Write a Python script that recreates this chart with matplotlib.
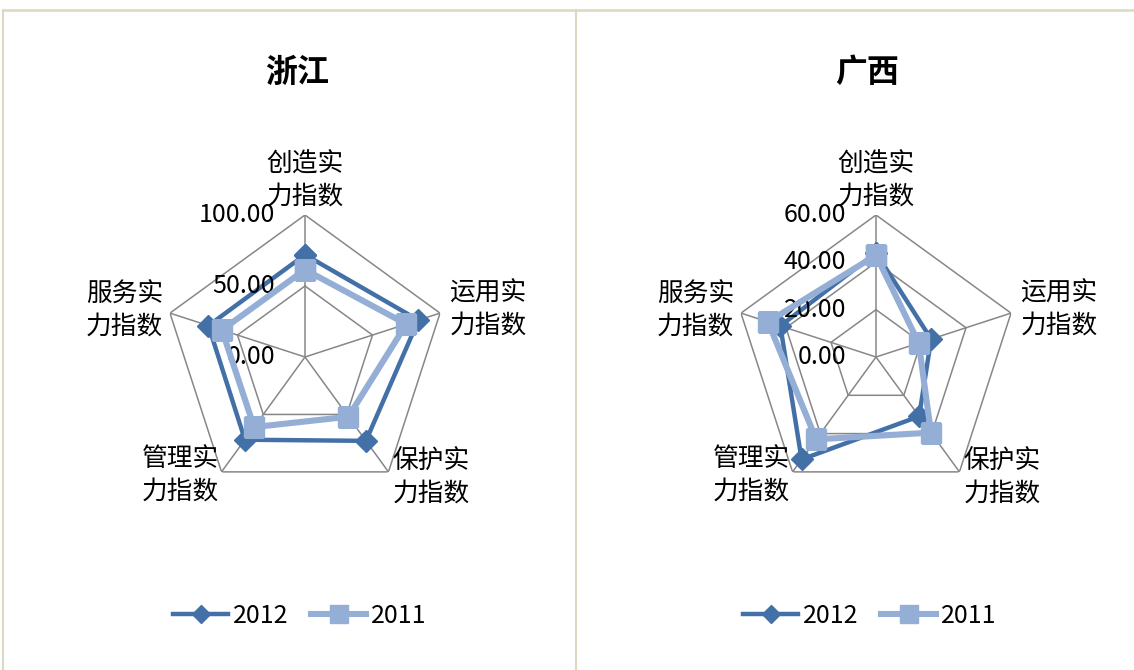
import numpy as np
import matplotlib.pyplot as plt
from matplotlib.lines import Line2D
from matplotlib.transforms import ScaledTranslation

plt.rcParams['font.family'] = ['Noto Sans CJK SC', 'DejaVu Sans']
plt.rcParams['axes.unicode_minus'] = False

# 数据
categories = ['创造实\n力指数', '运用实\n力指数', '保护实\n力指数', '管理实\n力指数', '服务实\n力指数']
series_names = ['2012', '2011']

zj_2012 = [72.0, 84.0, 73.0, 72.0, 71.5]
zj_2011 = [61.5, 75.0, 52.0, 61.0, 61.5]
gx_2012 = [44.0, 24.5, 31.0, 53.5, 42.5]
gx_2011 = [43.0, 19.0, 39.5, 43.0, 48.0]

zj_ticks = [0, 50, 100]
gx_ticks = [0, 20, 40, 60]

c2012 = '#4470A8'
c2011 = '#94AED6'
grid_c = '#878787'
border_c = '#DDD8C2'

W, H = 1134, 670
fig = plt.figure(figsize=(W / 100, H / 100), dpi=100)

# 表格边框
fig.add_artist(Line2D([3 / W, 1], [1 - 10 / H, 1 - 10 / H], color=border_c, lw=1.8))
fig.add_artist(Line2D([3 / W, 3 / W], [0, 1 - 10 / H], color=border_c, lw=1.5))
fig.add_artist(Line2D([576 / W, 576 / W], [0, 1 - 10 / H], color=border_c, lw=1.5))


def radar(cx, cy, rad, title, d2012, d2011, ticks, title_dx, legend_x):
    ax = fig.add_axes([(cx - rad) / W, (H - cy - rad) / H, 2 * rad / W, 2 * rad / H],
                      projection='polar')
    ax.set_theta_offset(np.pi / 2)
    ax.set_theta_direction(-1)
    ax.set_ylim(0, ticks[-1])
    ax.grid(False)
    ax.spines['polar'].set_visible(False)
    ax.set_xticks([])
    ax.set_yticks([])
    ax.patch.set_alpha(0)

    n = len(categories)
    theta = np.linspace(0, 2 * np.pi, n, endpoint=False)
    th_c = np.append(theta, theta[0])

    # 网格
    for t in ticks[1:]:
        ax.plot(th_c, [t] * (n + 1), color=grid_c, lw=1.1, zorder=1)
    for t in theta:
        ax.plot([t, t], [0, ticks[-1]], color=grid_c, lw=1.1, zorder=1)

    ax.plot(th_c, d2012 + d2012[:1], color=c2012, lw=3.2, marker='D', ms=11,
            label=series_names[0], zorder=3)
    ax.plot(th_c, d2011 + d2011[:1], color=c2011, lw=4.4, marker='s', ms=15,
            label=series_names[1], zorder=4)

    # 刻度标签
    off = ax.transData + ScaledTranslation(-0.30, 0, fig.dpi_scale_trans)
    for t in ticks:
        ax.text(0, t, '%.2f' % t, transform=off, ha='right', va='center', fontsize=18)

    # 分类标签
    rmax = ticks[-1]
    aligns = [('center', 'bottom'), ('left', 'center'), ('left', 'center'),
              ('right', 'center'), ('right', 'center')]
    rs = [1.04, 1.07, 1.05, 1.03, 1.05]
    for t, lab, (ha, va), rr in zip(theta, categories, aligns, rs):
        ax.text(t, rmax * rr, lab, ha=ha, va=va, fontsize=18.5, linespacing=1.3,
                multialignment='center')

    ax.text(0.5 + title_dx, 1.5, title, transform=ax.transAxes, ha='center',
            va='center', fontsize=23, fontweight='bold')

    ax.legend(loc='center', bbox_to_anchor=(legend_x / W, (H - 616) / H),
              bbox_transform=fig.transFigure, ncol=2, frameon=False, fontsize=18,
              handlelength=2.2, handletextpad=0.2, columnspacing=0.9, numpoints=1,
              markerscale=0.85)
    return ax


radar(305, 357, 142, '浙江', zj_2012, zj_2011, zj_ticks, -0.028, 300)
radar(876, 357, 142, '广西', gx_2012, gx_2011, gx_ticks, -0.032, 870)

fig.savefig('out.png', dpi=100)
